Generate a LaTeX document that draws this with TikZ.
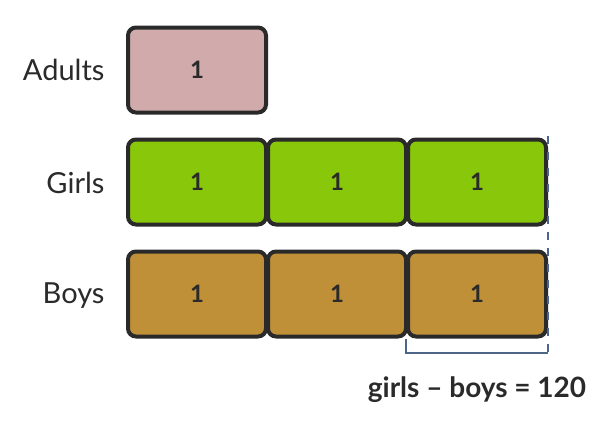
\documentclass[tikz,border=0pt]{standalone}
\usepackage{fontspec}
\setmainfont{Lato}
\definecolor{adultcol}{HTML}{D1ABAB}
\definecolor{girlcol}{HTML}{88C70A}
\definecolor{boycol}{HTML}{C09038}
\definecolor{edgecol}{HTML}{2A2A2A}
\definecolor{markcol}{HTML}{4D6688}
\begin{document}
\begin{tikzpicture}[x=1pt,y=-1pt,
    unitbox/.style={rectangle,rounded corners=8pt,draw=edgecol,line width=4pt,
        minimum width=138pt,minimum height=85pt,inner sep=0pt,
        font=\fontsize{24}{24}\selectfont\bfseries,text=edgecol},
    rowlabel/.style={anchor=east,font=\fontsize{29}{29}\selectfont,text=edgecol},
    marker/.style={draw=markcol,line width=2pt}]
\useasboundingbox (0,0) rectangle (610,431);
% labels
\node[rowlabel](LA) at (108,70){Adults};
\node[rowlabel](LG) at (108,183){Girls};
\node[rowlabel](LB) at (108,296){Boys};
% bars
\node[unitbox,fill=adultcol](A1) at (197,70){1};
\foreach \i/\x in {1/197,2/337,3/477}{
    \node[unitbox,fill=girlcol](G\i) at (\x,182){1};
    \node[unitbox,fill=boycol](B\i) at (\x,294){1};
}
% difference marker
\coordinate(C1) at ([yshift=-14pt]B3.south west);
\coordinate(C2) at ([yshift=-14pt]B3.south east);
\draw[marker,dash pattern=on 8pt off 8pt] ([yshift=2pt]G3.north east) -- (C2);
\draw[marker] (B3.south west) -- (C1) -- (C2);
\node[font=\fontsize{28}{28}\selectfont\bfseries,text=edgecol](D) at (477,390){girls -- boys = 120};
\end{tikzpicture}
\end{document}
